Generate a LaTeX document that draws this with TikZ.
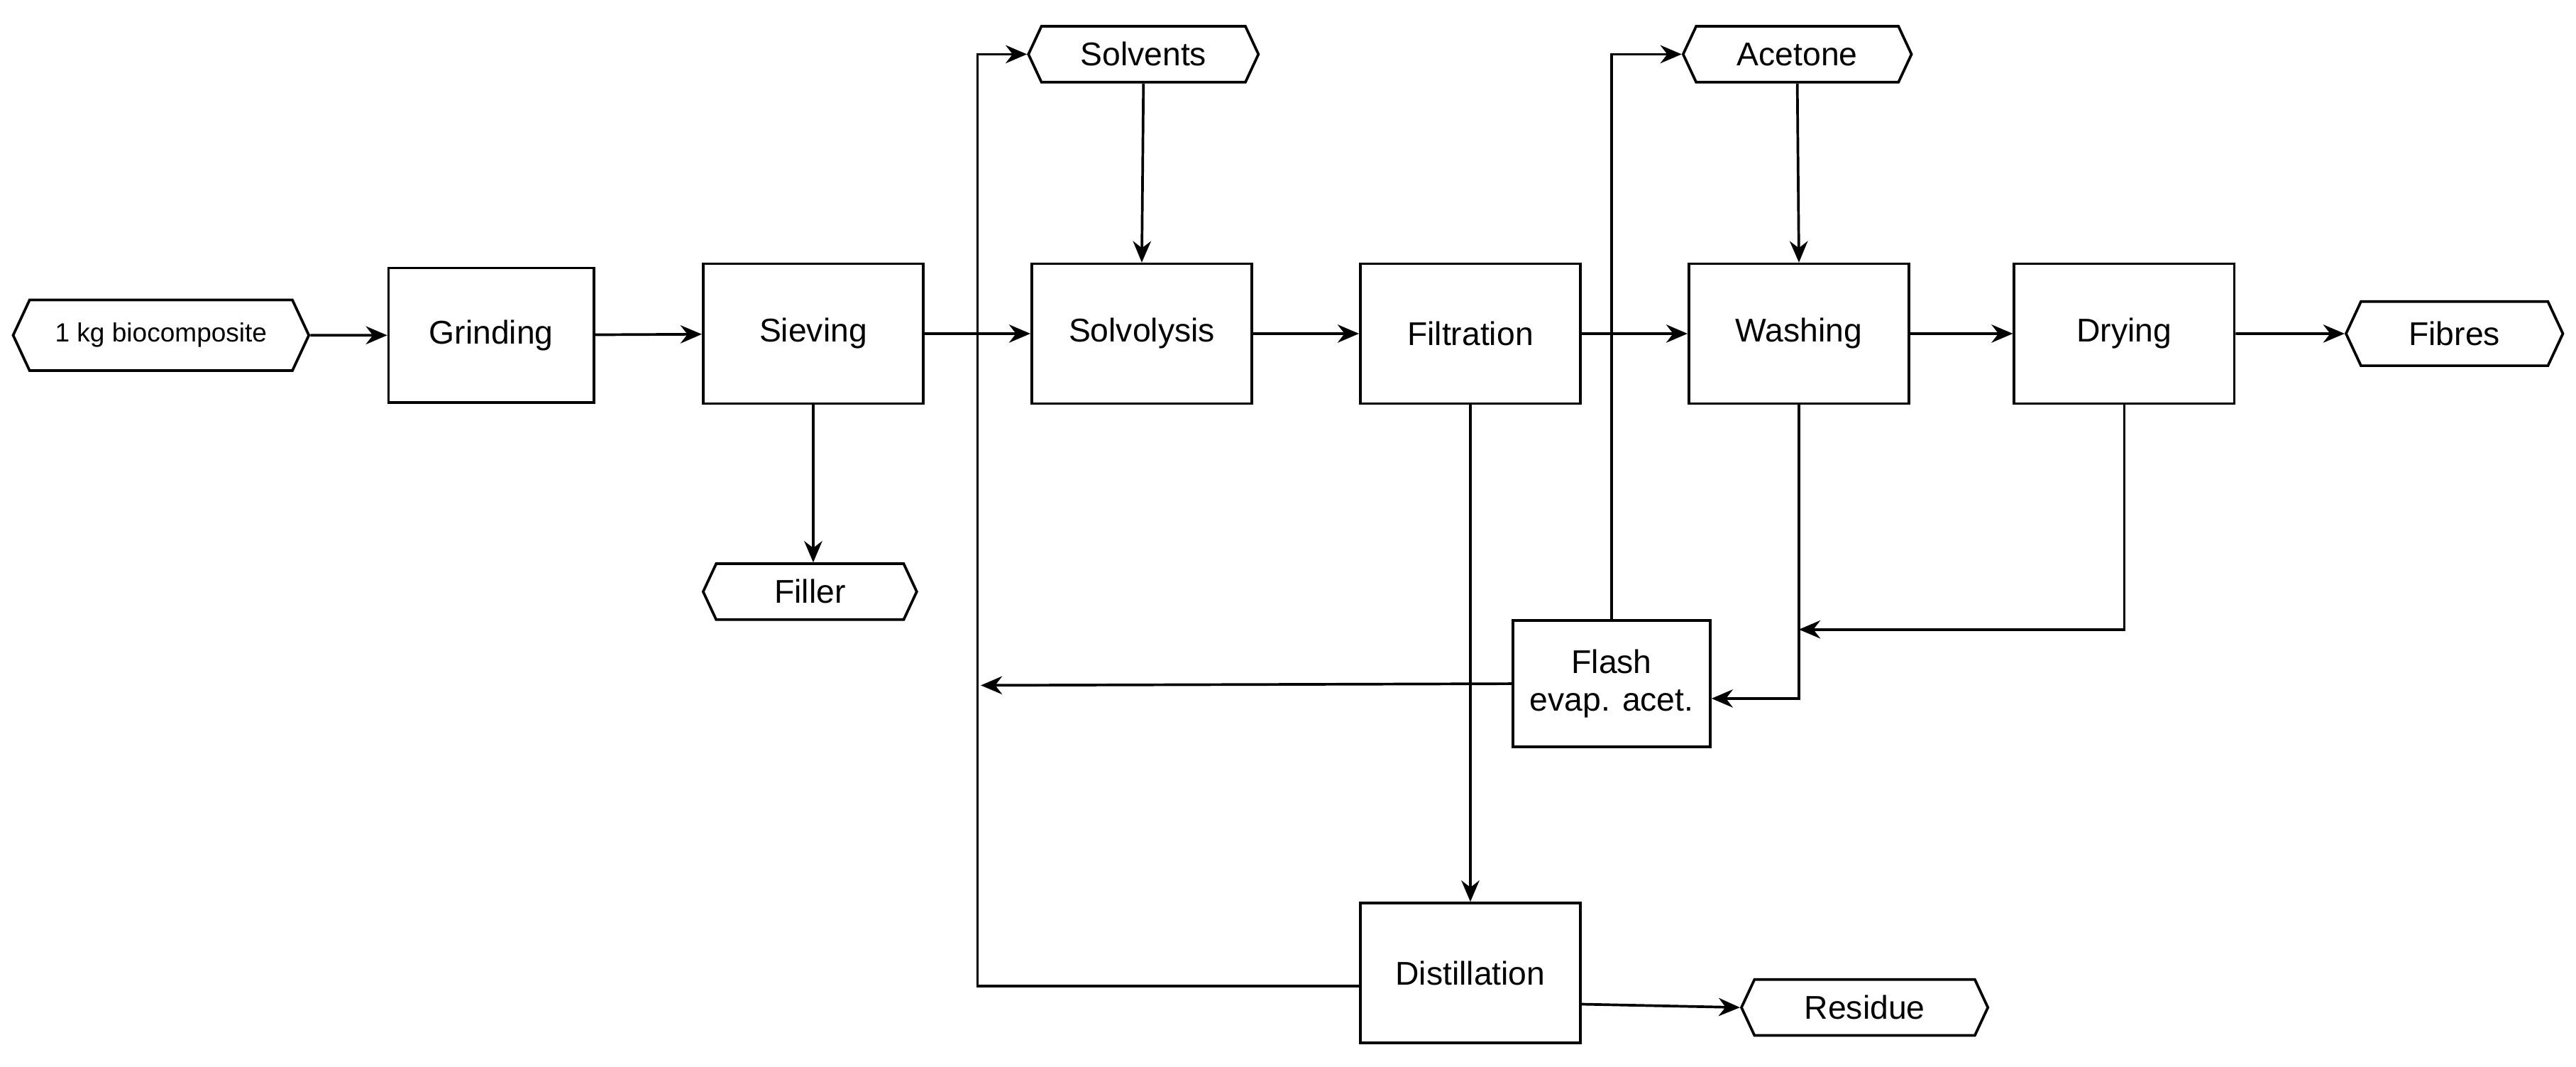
\documentclass[tikz,border=0pt]{standalone}
\usepackage{fontspec}
\setmainfont{Liberation Sans}
\usetikzlibrary{shapes.symbols,arrows.meta}
\begin{document}
\begin{tikzpicture}[x=1pt,y=-1pt,
  font=\fontsize{20}{23}\selectfont,
  box/.style={draw,line width=1.6pt,minimum width=134pt,minimum height=85pt,align=center,inner sep=2pt},
  hex/.style={draw,line width=1.6pt,shape=signal,signal to=east and west,signal pointer angle=130,minimum height=34pt,inner sep=2pt},
  ar/.style={line width=1.6pt,-{Stealth[length=13pt,width=11pt]}},
  ln/.style={line width=1.6pt}]
\useasboundingbox (0,0) rectangle (1568,649);
\node[hex,minimum width=180pt,minimum height=43pt,font=\fontsize{16}{19}\selectfont] (bio) at (98,204) {1 kg biocomposite};
\node[box,minimum width=125pt,minimum height=82pt] (grind) at (299,204) {Grinding};
\node[box] (siev) at (495,203) {Sieving};
\node[box] (solv) at (695,203) {Solvolysis};
\node[box] (filt) at (895,203) {Filtration};
\node[box] (wash) at (1095,203) {Washing};
\node[box] (dry) at (1293,203) {Drying};
\node[hex,minimum width=132pt,minimum height=39pt] (fib) at (1494,203) {Fibres};
\node[hex,minimum width=140pt] (solvents) at (696,33) {Solvents};
\node[hex,minimum width=139pt] (acet) at (1094,33) {Acetone};
\node[hex,minimum width=130pt] (fill) at (493,360) {Filler};
\node[box,minimum width=120pt,minimum height=77pt] (flash) at (981,416) {Flash\\evap. acet.};
\node[box] (dist) at (895,592) {Distillation};
\node[hex,minimum width=150pt] (res) at (1135,613) {Residue};
\coordinate (rl) at (597,417);
\draw[ar] (bio) -- (grind);
\draw[ar] (grind) -- (siev);
\draw[ar] (siev) -- (solv);
\draw[ar] (solv) -- (filt);
\draw[ar] (filt) -- (wash);
\draw[ar] (wash) -- (dry);
\draw[ar] (dry) -- (fib);
\draw[ar] (solvents.south) -- (solv.north);
\draw[ar] (acet.south) -- (wash.north);
\draw[ar] (siev.south) -- (fill.north-|siev.south);
\draw[ar] (filt.south) -- (dist.north);
\draw[ar] (dist.west|-0,600) -- (595,600) -- (595,33) -- (solvents.west);
\draw[ar] (flash.north) -- (981,33) -- (acet.west);
\draw[ar] (flash.west) -- (rl);
\draw[ar] (wash.south) -- (1095,425) -- (flash.east|-0,425);
\draw[ar] (dry.south) -- (1293,383) -- (1095,383);
\draw[ar] (dist.east|-0,611) -- (res.west);
\end{tikzpicture}
\end{document}
